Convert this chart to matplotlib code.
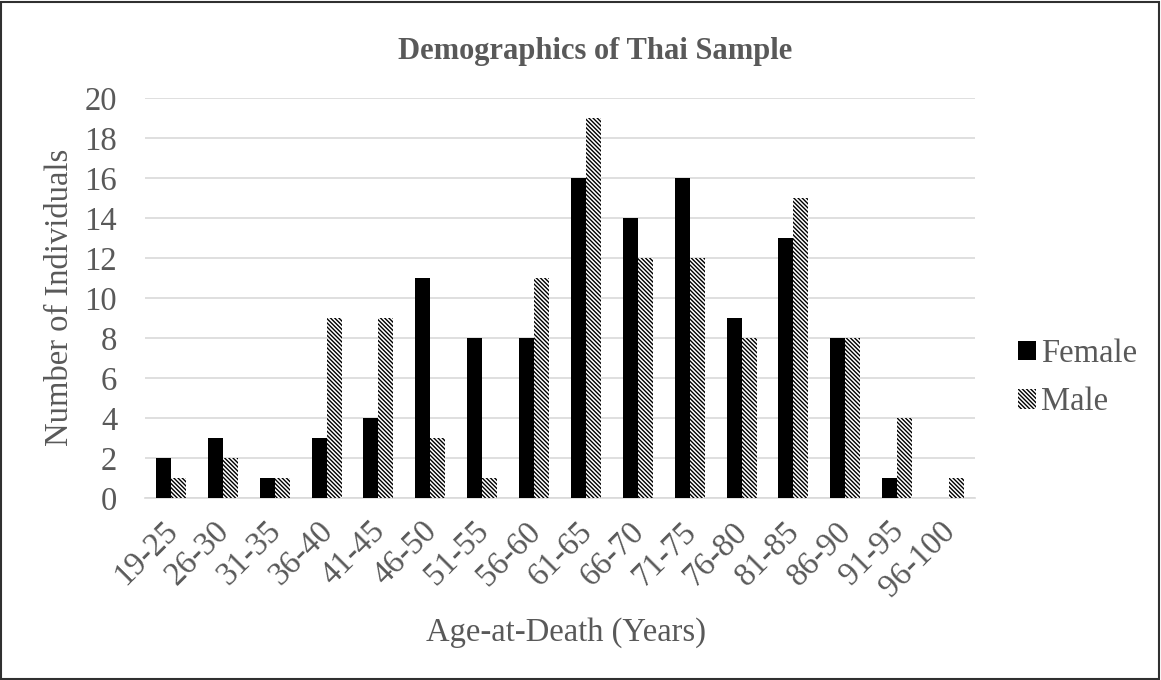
import matplotlib
matplotlib.use("Agg")
import matplotlib.pyplot as plt
import matplotlib.transforms as mtransforms
import numpy as np
from matplotlib.patches import Rectangle

categories = ["19-25", "26-30", "31-35", "36-40", "41-45", "46-50", "51-55", "56-60",
              "61-65", "66-70", "71-75", "76-80", "81-85", "86-90", "91-95", "96-100"]
female = [2, 3, 1, 3, 4, 11, 8, 8, 16, 14, 16, 9, 13, 8, 1, 0]
male = [1, 2, 1, 9, 9, 3, 1, 11, 19, 12, 12, 8, 15, 8, 4, 1]

plt.rcParams['font.family'] = ['Liberation Serif', 'DejaVu Serif']
plt.rcParams['hatch.linewidth'] = 1.0
gray = '#595959'
fs = 23.5

fig = plt.figure(figsize=(11.61, 6.8), dpi=100)
ax = fig.add_axes([145/1161, 1 - 498/680, (975-145)/1161, 400/680])

x = np.arange(len(categories))
w = 0.29
ax.bar(x - w/2, female, w, color='black', label='Female', zorder=3)
ax.bar(x + w/2, male, w, color='white', edgecolor='black', linewidth=0,
       hatch='\\\\\\\\\\\\\\\\', label='Male', zorder=3)

ax.set_xlim(-0.5, len(categories) - 0.5)
ax.set_ylim(0, 20)
ax.set_yticks(range(0, 21, 2))
ax.set_xticks(x)
ax.set_xticklabels(categories, rotation=45, ha='right', rotation_mode='anchor')
ax.tick_params(axis='both', length=0, labelsize=fs, labelcolor=gray)
ax.tick_params(axis='y', pad=20)
ax.tick_params(axis='x', pad=13)
offset = mtransforms.ScaledTranslation(-9/100, 0, fig.dpi_scale_trans)
for lbl in ax.get_xticklabels():
    lbl.set_transform(lbl.get_transform() + offset)
ax.grid(axis='y', color='#d9d9d9', linewidth=1.2, zorder=0)
for s in ['top', 'right', 'left']:
    ax.spines[s].set_visible(False)
ax.spines['bottom'].set_color('#d9d9d9')
ax.spines['bottom'].set_linewidth(1.2)

fig.text(60/1161, 1 - 297/680, 'Number of Individuals', fontsize=fs, color=gray,
         ha='center', va='center', rotation=90)
fig.text(566/1161, 1 - 633/680, 'Age-at-Death (Years)', fontsize=fs, color=gray,
         ha='center', va='center')
fig.text(595/1161, 1 - 52/680, 'Demographics of Thai Sample', fontsize=22, color=gray,
         ha='center', va='center', fontweight='bold')

leg = ax.legend(loc='center left', bbox_to_anchor=(1.052, 0.30), frameon=False,
                fontsize=fs, handlelength=0.55, handleheight=0.55, handletextpad=0.15,
                labelspacing=0.55, borderpad=0, borderaxespad=0)
for t in leg.get_texts():
    t.set_color(gray)

fig.patches.append(Rectangle((1/1161, 1/680), 1 - 3/1161, 1 - 3/680, transform=fig.transFigure,
                             fill=False, edgecolor='#303030', linewidth=1.5))

fig.savefig('out.png', dpi=100)
